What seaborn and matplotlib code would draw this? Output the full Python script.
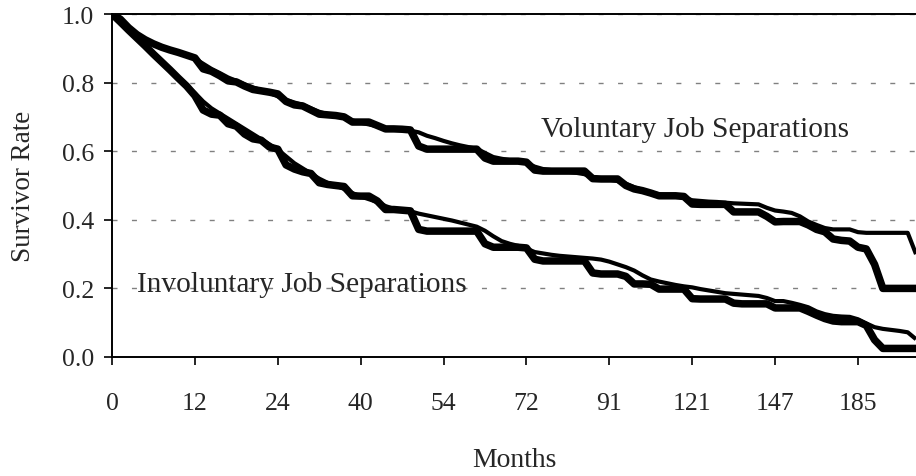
import numpy as np
import pandas as pd
import matplotlib
matplotlib.use('Agg')
import matplotlib.pyplot as plt
import seaborn as sns

# Kaplan-Meier style estimates (thick) and fitted curves (thin)
# one value per category point on the month axis
voluntary_km = [
    1.0, 0.985, 0.96, 0.94, 0.925, 0.913, 0.903, 0.895, 0.888, 0.88,
    0.872, 0.84, 0.833, 0.82, 0.805, 0.802, 0.79, 0.78, 0.776, 0.772,
    0.767, 0.745, 0.735, 0.732, 0.72, 0.708, 0.706, 0.704, 0.70, 0.685,
    0.685, 0.685, 0.675, 0.665, 0.665, 0.664, 0.662, 0.615, 0.606, 0.606,
    0.606, 0.606, 0.606, 0.606, 0.606, 0.58, 0.571, 0.571, 0.571, 0.571,
    0.568, 0.545, 0.542, 0.542, 0.542, 0.542, 0.542, 0.542, 0.52, 0.519,
    0.519, 0.519, 0.50, 0.49, 0.485, 0.478, 0.47, 0.47, 0.47, 0.468,
    0.446, 0.445, 0.445, 0.445, 0.445, 0.423, 0.423, 0.423, 0.423, 0.41,
    0.394, 0.395, 0.395, 0.395, 0.385, 0.372, 0.365, 0.344, 0.34, 0.338,
    0.32, 0.315, 0.27, 0.2, 0.2, 0.2, 0.2, 0.2,
]
voluntary_fit = [
    1.0, 0.985, 0.962, 0.942, 0.927, 0.915, 0.905, 0.897, 0.889, 0.881,
    0.87, 0.855, 0.84, 0.828, 0.815, 0.805, 0.795, 0.786, 0.778, 0.77,
    0.76, 0.75, 0.742, 0.735, 0.725, 0.715, 0.708, 0.703, 0.697, 0.69,
    0.683, 0.678, 0.673, 0.668, 0.665, 0.663, 0.66, 0.655, 0.645, 0.638,
    0.63, 0.623, 0.617, 0.612, 0.607, 0.595, 0.583, 0.578, 0.574, 0.57,
    0.565, 0.555, 0.548, 0.545, 0.543, 0.54, 0.537, 0.533, 0.525, 0.52,
    0.517, 0.513, 0.505, 0.495, 0.487, 0.48, 0.474, 0.471, 0.468, 0.465,
    0.457, 0.455, 0.453, 0.452, 0.45, 0.448, 0.447, 0.446, 0.445, 0.435,
    0.427, 0.424, 0.42, 0.41, 0.395, 0.385, 0.376, 0.372, 0.372, 0.372,
    0.364, 0.362, 0.362, 0.362, 0.362, 0.362, 0.362, 0.30,
]
involuntary_km = [
    1.0, 0.977, 0.953, 0.93, 0.907, 0.883, 0.86, 0.837, 0.813, 0.79,
    0.762, 0.72, 0.708, 0.705, 0.68, 0.673, 0.65, 0.636, 0.632, 0.612,
    0.606, 0.56, 0.548, 0.54, 0.535, 0.508, 0.503, 0.50, 0.497, 0.47,
    0.469, 0.469, 0.455, 0.43, 0.43, 0.428, 0.426, 0.372, 0.367, 0.367,
    0.367, 0.367, 0.367, 0.367, 0.367, 0.33, 0.32, 0.32, 0.32, 0.32,
    0.318, 0.285, 0.28, 0.28, 0.28, 0.28, 0.28, 0.28, 0.245, 0.242,
    0.242, 0.242, 0.235, 0.213, 0.213, 0.212, 0.198, 0.198, 0.198, 0.198,
    0.17, 0.169, 0.169, 0.169, 0.169, 0.157, 0.155, 0.155, 0.155, 0.155,
    0.143, 0.143, 0.143, 0.143, 0.133, 0.122, 0.112, 0.105, 0.103, 0.103,
    0.103, 0.092, 0.05, 0.025, 0.025, 0.025, 0.025, 0.025,
]
involuntary_fit = [
    1.0, 0.977, 0.953, 0.93, 0.907, 0.883, 0.86, 0.837, 0.815, 0.793,
    0.77, 0.745, 0.725, 0.71, 0.695, 0.68, 0.665, 0.65, 0.635, 0.62,
    0.605, 0.585, 0.565, 0.55, 0.535, 0.52, 0.508, 0.50, 0.49, 0.478,
    0.468, 0.46, 0.452, 0.44, 0.432, 0.428, 0.425, 0.418, 0.413, 0.408,
    0.403, 0.398, 0.392, 0.386, 0.38, 0.368, 0.352, 0.338, 0.33, 0.324,
    0.316, 0.306, 0.302, 0.298, 0.295, 0.293, 0.291, 0.289, 0.287, 0.284,
    0.278, 0.27, 0.262, 0.252, 0.238, 0.226, 0.22, 0.215, 0.21, 0.206,
    0.203, 0.198, 0.194, 0.19, 0.186, 0.184, 0.182, 0.18, 0.178, 0.172,
    0.163, 0.163, 0.158, 0.152, 0.145, 0.133, 0.125, 0.12, 0.118, 0.117,
    0.11, 0.098, 0.087, 0.082, 0.079, 0.076, 0.072, 0.052,
]

month_labels = ['0', '12', '24', '40', '54', '72', '91', '121', '147', '185']
label_every = 10

sns.set_style('white')
plt.rcParams['font.family'] = ['Liberation Serif', 'DejaVu Serif']

n = len(voluntary_km)
df = pd.DataFrame({
    'idx': np.arange(n),
    'vol_km': voluntary_km,
    'vol_fit': voluntary_fit,
    'inv_km': involuntary_km,
    'inv_fit': involuntary_fit,
})

fig = plt.figure(figsize=(9.16, 4.77), dpi=100)
ax = fig.add_axes([112 / 916, 119 / 477, 804 / 916, 343 / 477])

for col, lw in [('vol_fit', 3.0), ('inv_fit', 3.0), ('vol_km', 5.4), ('inv_km', 5.4)]:
    sns.lineplot(data=df, x='idx', y=col, ax=ax, color='black', linewidth=lw,
                 solid_joinstyle='round', solid_capstyle='butt', zorder=3)

ax.set_xlim(0, n - 1)
ax.set_ylim(0, 1.0)
ax.set_yticks(np.arange(0, 1.01, 0.2))
ax.set_yticklabels([f'{v:.1f}' for v in np.arange(0, 1.01, 0.2)])
ax.set_xticks(np.arange(0, label_every * len(month_labels), label_every))
ax.set_xticklabels(month_labels)

ax.yaxis.grid(True, color='#808080', linewidth=1.0, linestyle=(0, (3.6, 10.4)))
ax.xaxis.grid(False)
ax.set_axisbelow(True)

for side in ['left', 'bottom', 'top']:
    ax.spines[side].set_color('black')
    ax.spines[side].set_linewidth(1.4)
ax.spines['right'].set_visible(False)

ax.tick_params(axis='y', direction='out', length=6, width=1.2, color='black',
               labelsize=18.5, pad=7, left=True)
ax.tick_params(axis='x', direction='out', length=6, width=1.2, color='black',
               labelsize=18.5, pad=19, bottom=True)

ax.set_xlabel('Months', fontsize=20)
ax.set_ylabel('Survivor Rate', fontsize=19.5)
ax.xaxis.set_label_coords(0.5, -0.262)
ax.yaxis.set_label_coords(-0.094, 0.5)

ax.text(51.8, 0.644, 'Voluntary Job Separations', fontsize=21.2, ha='left', va='baseline')
ax.text(3.0, 0.192, 'Involuntary Job Separations', fontsize=21.2, ha='left', va='baseline')

fig.savefig('out.png', dpi=100)
